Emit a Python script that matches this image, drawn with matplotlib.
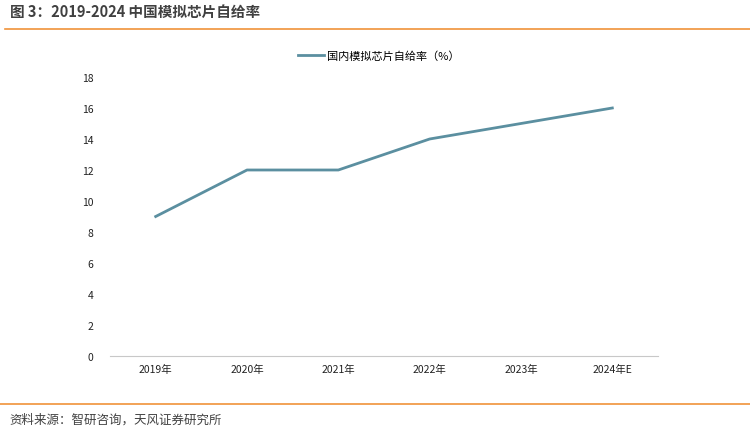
import matplotlib
matplotlib.use("Agg")
import matplotlib.pyplot as plt
import numpy as np

plt.rcParams['font.family'] = ['Noto Sans CJK SC', 'DejaVu Sans']

years = ['2019年', '2020年', '2021年', '2022年', '2023年', '2024年E']
rate = [9, 12, 12, 14, 15, 16]

fig = plt.figure(figsize=(7.5, 4.35), dpi=100)

# title and orange rules
fig.text(0.013, 0.972, '图 3：2019-2024 中国模拟芯片自给率', fontsize=10.5,
         fontweight='bold', color='#404040', va='center', ha='left')
fig.add_artist(plt.Line2D([0.007, 1.0], [0.931, 0.931], color='#f0923a', lw=1.2))
fig.add_artist(plt.Line2D([0.0, 1.0], [0.069, 0.069], color='#f0923a', lw=1.2))
fig.text(0.013, 0.033, '资料来源：智研咨询，天风证券研究所', fontsize=9,
         color='#404040', va='center', ha='left')

ax = fig.add_axes([0.1467, 0.1793, 0.7306, 0.6414])
x = np.arange(len(years))
ax.plot(x, rate, color='#5b8fa0', lw=2.0, label='国内模拟芯片自给率（%）')
ax.set_xlim(-0.5, len(years) - 0.5)
ax.set_ylim(0, 18)
ax.set_yticks(np.arange(0, 19, 2))
ax.set_xticks(x)
ax.set_xticklabels(years)
ax.tick_params(axis='both', length=0, labelsize=7.5, colors='#222222')
ax.tick_params(axis='x', pad=6)
ax.tick_params(axis='y', pad=12)
for s in ['top', 'right', 'left']:
    ax.spines[s].set_visible(False)
ax.spines['bottom'].set_color('#c8c8c8')
ax.spines['bottom'].set_linewidth(0.8)

ax.legend(loc='upper center', bbox_to_anchor=(0.49, 1.13), frameon=False,
          fontsize=8, handlelength=2.4, handletextpad=0.2)

fig.savefig('out.png', dpi=100)
